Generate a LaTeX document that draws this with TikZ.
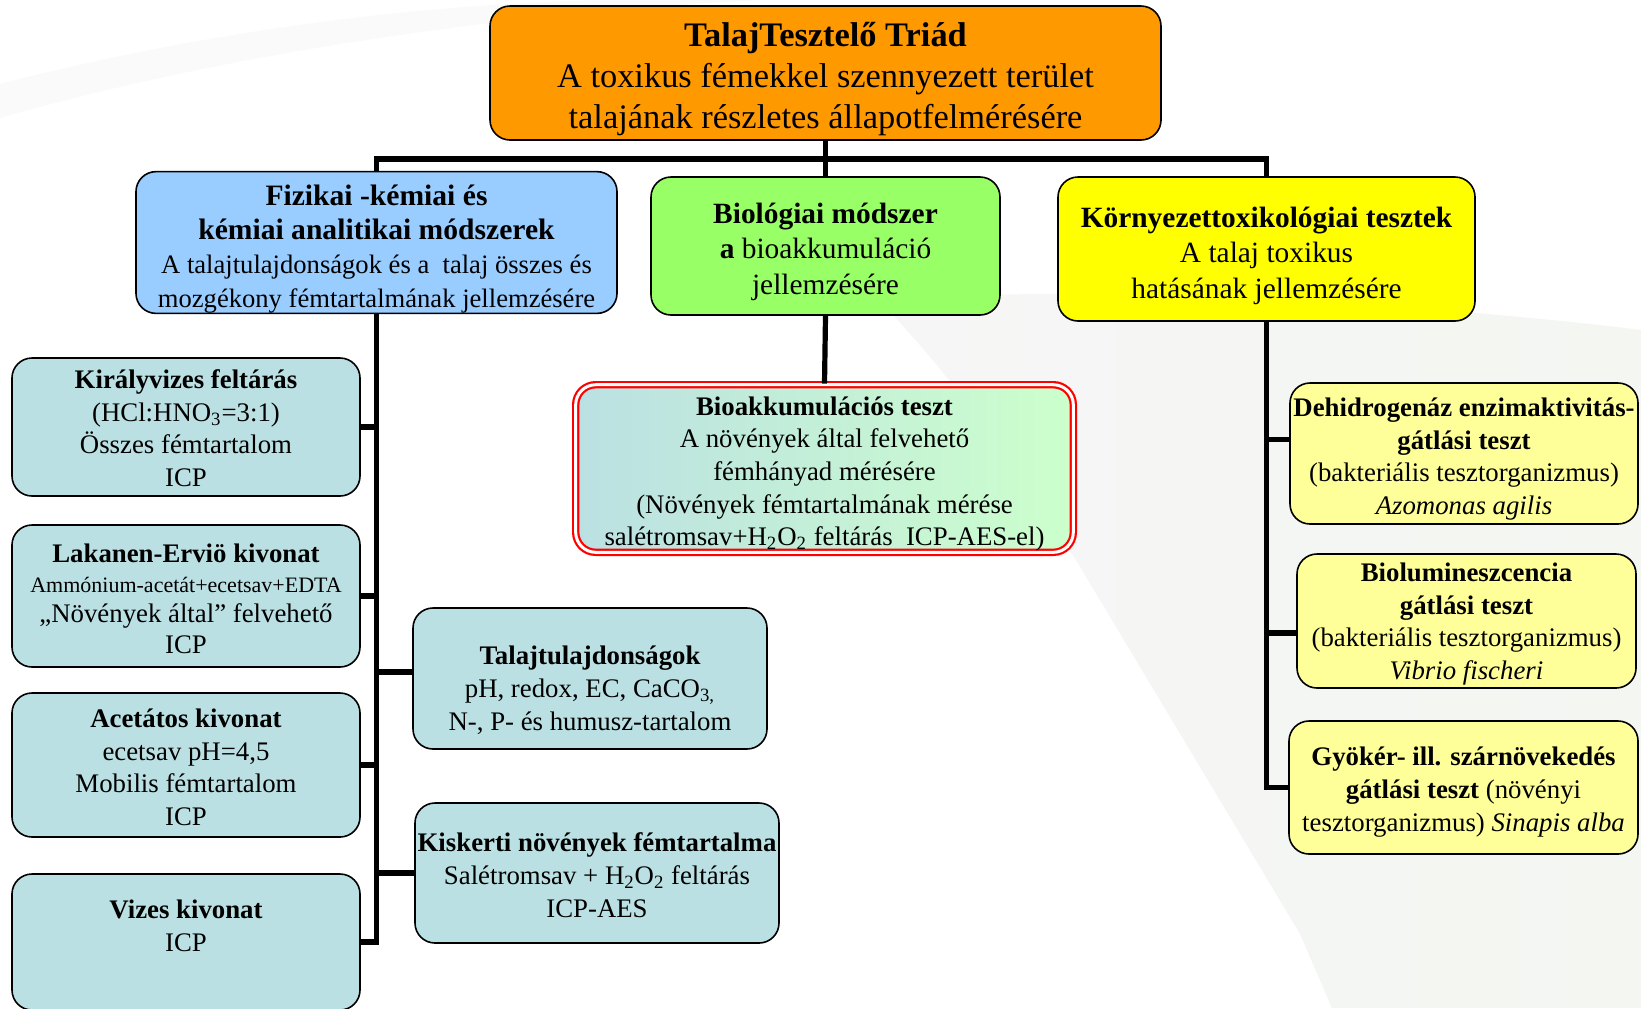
\documentclass[tikz,border=0pt]{standalone}
\usepackage{fontspec}
\setmainfont{Liberation Serif}
\definecolor{narancs}{HTML}{FF9900}
\definecolor{kek}{HTML}{99CCFF}
\definecolor{zold}{HTML}{99FF66}
\definecolor{sarga}{HTML}{FFFF00}
\definecolor{halvany}{HTML}{BBE0E3}
\definecolor{halvanysarga}{HTML}{FFFF99}
\definecolor{halvanyzold}{HTML}{CCFFCC}
\definecolor{hatter}{HTML}{F3F6F1}
\newcommand{\nagycim}[1]{{\fontsize{14.8}{17}\selectfont\bfseries #1}}
\newcommand{\fel}[1]{\rule{0pt}{#1}}
\tikzset{
	doboz/.style={draw=black, line width=0.8pt, rounded corners=10pt, align=center, inner sep=0pt},
	fodoboz/.style={doboz, font=\fontsize{14.7}{17.8}\selectfont},
	level/.style={doboz, fill=halvany, minimum width=174pt, font=\fontsize{13.4}{16.4}\selectfont},
	teszt/.style={doboz, fill=halvanysarga, font=\fontsize{13.4}{16.3}\selectfont},
	vonal/.style={line width=2.6pt, line join=miter},
}
\begin{document}
\begin{tikzpicture}[x=0.5pt,y=-0.5pt]
		\fill[white] (0,0) rectangle (1641,1008);
		\useasboundingbox (0,0) rectangle (1641,1008);
		\fill[gray!4] (0,84) .. controls (180,38) and (380,6) .. (600,0) -- (760,0) .. controls (480,14) and (200,60) .. (0,118) -- cycle;
		\shade[left color=gray!7, right color=hatter] (880,300) .. controls (960,390) .. (1076,560) -- (1300,934) -- (1332,1008) -- (1641,1008) -- (1641,330) .. controls (1400,300) and (1050,285) .. (880,300) -- cycle;
		\coordinate (bar) at (0,159);
		% felso szint
		\node[fodoboz, fill=narancs, minimum width=335.5pt, minimum height=67pt, font=\fontsize{17.2}{20.5}\selectfont, name=triad] at (825.5,73) {\fel{18pt}\textbf{TalajTesztelő Triád}\\A toxikus fémekkel szennyezett terület\\talajának részletes állapotfelmérésére};
		\node[fodoboz, fill=kek, minimum width=240.5pt, minimum height=69.5pt, font=\fontsize{13.3}{17}\selectfont, name=fizikai] at (376.5,242.5) {\fel{17pt}\nagycim{Fizikai -kémiai és}\\\nagycim{kémiai analitikai módszerek}\\A talajtulajdonságok és a\ \ talaj összes és\\mozgékony fémtartalmának jellemzésére};
		\node[fodoboz, fill=zold, minimum width=174.5pt, minimum height=69pt, name=biol] at (825.5,246) {\fel{15.8pt}\textbf{Biológiai módszer}\\\textbf{a} bioakkumuláció\\jellemzésére};
		\node[fodoboz, fill=sarga, minimum width=208.5pt, minimum height=72pt, name=kornyezet] at (1266.5,249) {\fel{16.9pt}\textbf{Környezettoxikológiai tesztek}\\A talaj toxikus\\hatásának jellemzésére};
		% bal oldal
		\node[level, minimum height=69pt, name=kiraly] at (186,427) {\fel{10.6pt}\textbf{Királyvizes feltárás}\\(HCl:HNO\textsubscript{3}=3:1)\\Összes fémtartalom\\ICP};
		\node[level, minimum height=71pt, font=\fontsize{13.4}{15.2}\selectfont, name=lakanen] at (186,596) {\fel{11.8pt}\textbf{Lakanen-Erviö kivonat}\\{\fontsize{11}{13}\selectfont Ammónium-acetát+ecetsav+EDTA}\\„Növények által” felvehető\\ICP};
		\node[level, minimum height=72pt, name=acetat] at (186,765) {\fel{11.6pt}\textbf{Acetátos kivonat}\\ecetsav pH=4,5\\Mobilis fémtartalom\\ICP};
		\node[level, minimum height=68pt, name=vizes] at (186,942) {};
		\node[align=center, inner sep=0pt, font=\fontsize{13.4}{16.4}\selectfont, name=vizesfelirat] at (186,925.5) {\textbf{Vizes kivonat}\\ICP};
		\node[level, minimum width=177pt, minimum height=70.5pt, name=talaj] at (590,678.5) {\fel{21pt}\textbf{Talajtulajdonságok}\\pH, redox, EC, CaCO\textsubscript{3,}\\N-, P- és humusz-tartalom};
		\node[level, minimum width=182pt, minimum height=70pt, name=kiskerti] at (597,873) {\fel{11.6pt}\textbf{Kiskerti növények fémtartalma}\\Salétromsav + H\textsubscript{2}O\textsubscript{2} feltárás\\ICP-AES};
		% kozep
		\node[doboz, left color=halvany, right color=halvanyzold, draw=red, line width=1.1pt, double=white, double distance=1.5pt, minimum width=248.8pt, minimum height=83.8pt, font=\fontsize{13.4}{16.3}\selectfont, name=bioakk] at (824.5,468.5) {\fel{14.8pt}\textbf{Bioakkumulációs teszt}\\A növények által felvehető\\fémhányad mérésére\\(Növények fémtartalmának mérése\\salétromsav+H\textsubscript{2}O\textsubscript{2} feltárás\hspace{0.5em}ICP-AES-el)};
		% jobb oldal
		\node[teszt, minimum width=174pt, minimum height=70.5pt, name=dehidro] at (1464,453.5) {\fel{14.8pt}\textbf{Dehidrogenáz enzimaktivitás-}\\\textbf{gátlási teszt}\\(bakteriális tesztorganizmus)\\\textit{Azomonas agilis}};
		\node[teszt, minimum width=169.5pt, minimum height=67pt, name=biolum] at (1466.5,621) {\fel{12.4pt}\textbf{Biolumineszcencia}\\\textbf{gátlási teszt}\\(bakteriális tesztorganizmus)\\\textit{Vibrio fischeri}};
		\node[teszt, minimum width=174.5pt, minimum height=66.5pt, name=gyoker] at (1463.5,787.5) {\fel{13.8pt}\textbf{Gyökér- ill. szárnövekedés}\\\textbf{gátlási teszt} (növényi\\tesztorganizmus) \textit{Sinapis alba}};
		% vonalak
		\draw[vonal] (triad.south) -- (biol.north);
		\draw[vonal] (fizikai.north) -- (fizikai.north |- bar) -- (kornyezet.north |- bar) -- (kornyezet.north);
		\draw[vonal] (biol.south) -- (bioakk.north);
		\draw[vonal] (fizikai.south) -- (fizikai.south |- vizes.east) -- (vizes.east);
		\foreach \n in {kiraly,lakanen,acetat}
		\draw[vonal] (\n.east) -- (fizikai.south |- \n.east);
		\draw[vonal] ([yshift=3.25pt]talaj.west) -| (fizikai.south);
		\draw[vonal] (kiskerti.west) -- (fizikai.south |- kiskerti.west);
		\draw[vonal] (kornyezet.south) -- (kornyezet.south |- gyoker.west) -- (gyoker.west);
		\draw[vonal] ([yshift=7pt]dehidro.west) -| (kornyezet.south);
		\draw[vonal] ([yshift=-6pt]biolum.west) -| (kornyezet.south);
	\end{tikzpicture}
\end{document}
